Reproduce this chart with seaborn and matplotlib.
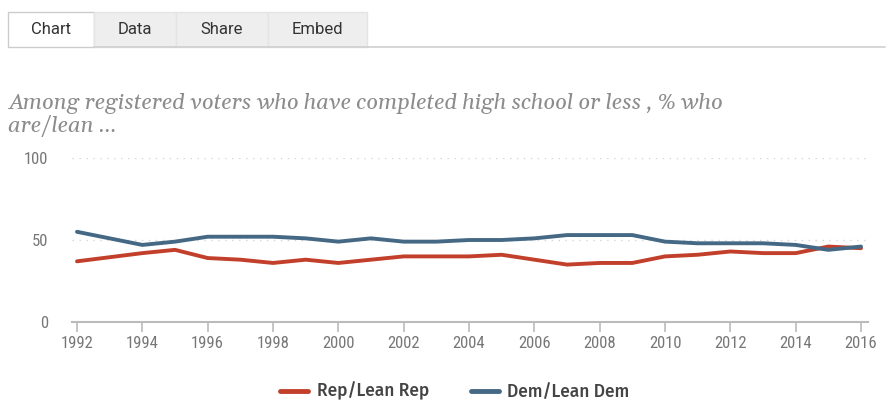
import matplotlib
matplotlib.use("Agg")
import matplotlib.pyplot as plt
from matplotlib.patches import Rectangle
from matplotlib.lines import Line2D
from matplotlib import font_manager as fm
import seaborn as sns
import pandas as pd

years = [1992, 1994, 1995, 1996, 1997, 1998, 1999, 2000, 2001, 2002, 2003, 2004,
         2005, 2006, 2007, 2008, 2009, 2010, 2011, 2012, 2013, 2014, 2015, 2016]
rep = [37, 42, 44, 39, 38, 36, 38, 36, 38, 40, 40, 40,
       41, 38, 35, 36, 36, 40, 41, 43, 42, 42, 46, 45]
dem = [55, 47, 49, 52, 52, 52, 51, 49, 51, 49, 49, 50,
       50, 51, 53, 53, 53, 49, 48, 48, 48, 47, 44, 46]
series_names = ["Rep/Lean Rep", "Dem/Lean Dem"]
x_ticks = list(range(1992, 2017, 2))
y_ticks = [0, 50, 100]
tabs = ["Chart", "Data", "Share", "Embed"]
title_lines = ["Among registered voters who have completed high school or less , % who",
               "are/lean ..."]

df = pd.DataFrame({
    "year": years * 2,
    "value": rep + dem,
    "party": [series_names[0]] * len(years) + [series_names[1]] * len(years),
})

installed = {f.name for f in fm.fontManager.ttflist}


def pick(*families):
    for fam in families:
        if fam in installed:
            return fam
    return "DejaVu Sans"


SERIF = pick("Georgia", "Gelasio", "Noto Serif", "DejaVu Serif")
NARROW = pick("Liberation Sans Narrow", "Roboto Condensed", "Asap Condensed",
              "Open Sans Condensed", "Archivo Narrow", "DejaVu Sans")
TAB = pick("Franklin Gothic", "Roboto", "DejaVu Sans")
LEG = pick("Fira Sans", "Lato", "DejaVu Sans")

sns.set_theme(style="white")
RED = "#c2402b"
BLUE = "#456985"
W, H = 891, 412
fig = plt.figure(figsize=(W / 100, H / 100), dpi=100)


def fx(px):
    return px / W


def fy(py):
    return 1 - py / H


# tab strip
tab_edges = [(8, 94), (94, 176), (176, 268), (268, 367)]
fig.add_artist(Line2D([fx(94), fx(885)], [fy(47), fy(47)], color="#d0d0d0", lw=1.2,
                      transform=fig.transFigure))
for i, (name, (x0, x1)) in enumerate(zip(tabs, tab_edges)):
    face = "white" if i == 0 else "#eeeeee"
    edge = "#cccccc" if i == 0 else "#e4e4e4"
    fig.add_artist(Rectangle((fx(x0), fy(47)), fx(x1 - x0), (47 - 12) / H,
                             facecolor=face, edgecolor=edge, lw=1,
                             transform=fig.transFigure))
    fig.text(fx((x0 + x1) / 2), fy(30), name, ha="center", va="center",
             fontsize=12, color="#333333", family=TAB, weight="normal")

for line, base in zip(title_lines, [109, 132]):
    fig.text(fx(8), fy(base), line, ha="left", va="baseline", fontsize=15.8,
             style="italic", color="#8c8c8c", family=SERIF)

ax = fig.add_axes([fx(72), fy(322), fx(868 - 72), (322 - 158) / H])
sns.lineplot(data=df, x="year", y="value", hue="party", palette=[RED, BLUE],
             linewidth=2.8, ax=ax, legend=False)

x0v = 1992 - 5 / 32.67
x1v = 2016 + 7 / 32.67
ax.set_xlim(x0v, x1v)
ax.set_ylim(0, 100)
ax.set_xticks(x_ticks)
ax.set_xticklabels([str(t) for t in x_ticks])
ax.set_yticks(y_ticks)
ax.set_xlabel("")
ax.set_ylabel("")
for s in ["top", "right", "left"]:
    ax.spines[s].set_visible(False)
ax.spines["bottom"].set_color("#bbbbbb")
ax.spines["bottom"].set_linewidth(1.5)
ax.tick_params(axis="x", length=7, width=1.2, color="#bbbbbb", labelsize=12,
               labelcolor="#777777", pad=3, bottom=True)
ax.tick_params(axis="y", length=0, labelsize=12, labelcolor="#777777", pad=17)
for lbl in ax.get_xticklabels() + ax.get_yticklabels():
    lbl.set_family(NARROW)
for yv in [50, 100]:
    ax.axhline(yv, color="#d5d5d5", lw=1, ls=(0, (1, 4)), zorder=0)

handles = [Line2D([], [], color=RED, lw=3.5), Line2D([], [], color=BLUE, lw=3.5)]
fig.legend(handles, series_names, loc="center", bbox_to_anchor=(fx(455), fy(391)),
           ncol=2, frameon=False, handlelength=1.6, handletextpad=0.5,
           columnspacing=2.4, prop={"family": LEG, "weight": "medium", "size": 12.5},
           labelcolor="#444444")

fig.savefig("out.png", dpi=100)
